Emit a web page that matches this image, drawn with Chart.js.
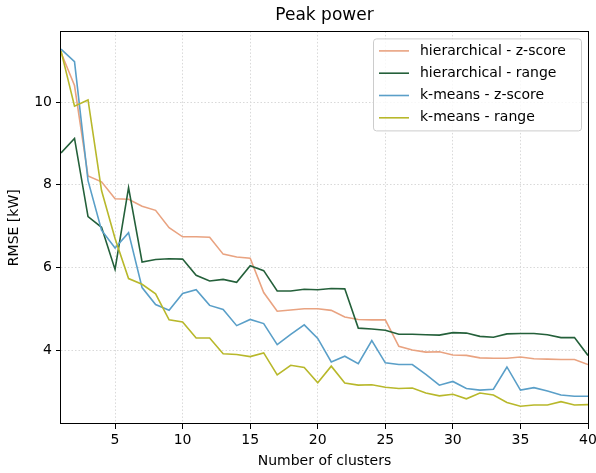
<!DOCTYPE html>
<html>
<head>
<meta charset="utf-8">
<script src="https://cdn.jsdelivr.net/npm/chart.js@4.4.1/dist/chart.umd.min.js"></script>
<style>
  html, body { margin: 0; padding: 0; background: #fff; }
  #wrap { width: 596px; height: 473px; }
</style>
</head>
<body>
<div id="wrap"><canvas id="grafico"></canvas></div>
<script>
// number of clusters on x
const clusters = Array.from({ length: 40 }, (_, i) => i + 1);
const xTicks = [5, 10, 15, 20, 25, 30, 35, 40];
const yTicks = [4, 6, 8, 10];

const nomes = ['hierarchical - z-score', 'hierarchical - range', 'k-means - z-score', 'k-means - range'];
const cores = ['#e9a381', '#24603a', '#5a9fc8', '#b8b82b'];

const hierZscore = [11.2, 10.4, 8.21, 8.07, 7.66, 7.65, 7.48, 7.38, 6.96, 6.74,
  6.74, 6.73, 6.32, 6.25, 6.22, 5.39, 4.94, 4.97, 5.0, 5.0,
  4.96, 4.8, 4.74, 4.73, 4.73, 4.09, 4.0, 3.95, 3.96, 3.88,
  3.87, 3.81, 3.8, 3.8, 3.83, 3.79, 3.78, 3.77, 3.77, 3.65];
const hierRange = [8.77, 9.12, 7.23, 6.97, 5.95, 7.93, 6.13, 6.19, 6.21, 6.2,
  5.81, 5.67, 5.71, 5.64, 6.04, 5.92, 5.43, 5.43, 5.47, 5.46,
  5.49, 5.48, 4.53, 4.51, 4.48, 4.38, 4.38, 4.37, 4.36, 4.42,
  4.41, 4.33, 4.31, 4.39, 4.4, 4.4, 4.37, 4.3, 4.3, 3.87];
const kmeansZscore = [11.28, 10.98, 8.1, 6.9, 6.47, 6.84, 5.51, 5.1, 4.96, 5.37,
  5.46, 5.08, 4.98, 4.59, 4.74, 4.64, 4.13, 4.38, 4.61, 4.28,
  3.71, 3.85, 3.67, 4.23, 3.69, 3.65, 3.65, 3.41, 3.15, 3.24,
  3.07, 3.03, 3.05, 3.59, 3.03, 3.09, 3.01, 2.91, 2.88, 2.88];
const kmeansRange = [11.24, 9.9, 10.05, 7.86, 6.7, 5.73, 5.59, 5.36, 4.73, 4.68,
  4.29, 4.29, 3.91, 3.89, 3.84, 3.93, 3.4, 3.63, 3.58, 3.21,
  3.61, 3.2, 3.15, 3.16, 3.1, 3.07, 3.08, 2.96, 2.89, 2.93,
  2.82, 2.96, 2.91, 2.73, 2.64, 2.67, 2.67, 2.75, 2.67, 2.68];

const series = [hierZscore, hierRange, kmeansZscore, kmeansRange];
const fonte = 'DejaVu Sans';

// frame round the plot and legend box like matplotlib
const moldura = {
  id: 'moldura',
  afterDraw(chart) {
    const ctx = chart.ctx;
    const a = chart.chartArea;
    ctx.save();
    ctx.strokeStyle = '#000';
    ctx.lineWidth = 1;
    ctx.strokeRect(Math.round(a.left) - 0.5, Math.round(a.top) + 0.5,
      Math.round(a.right - a.left) + 1, Math.round(a.bottom - a.top) - 1);

    const w = 208, h = 92;
    const x0 = a.right - 7 - w, y0 = a.top + 7;
    ctx.beginPath();
    ctx.roundRect(x0 + 0.5, y0 + 0.5, w, h, 3);
    ctx.fillStyle = 'rgba(255,255,255,0.8)';
    ctx.fill();
    ctx.strokeStyle = '#cccccc';
    ctx.stroke();

    ctx.font = '14px "' + fonte + '"';
    ctx.textBaseline = 'middle';
    ctx.fillStyle = '#000';
    nomes.forEach((nome, i) => {
      const y = y0 + 12.5 + i * 22.3;
      ctx.beginPath();
      ctx.moveTo(x0 + 6, y);
      ctx.lineTo(x0 + 36, y);
      ctx.strokeStyle = cores[i];
      ctx.lineWidth = 1.6;
      ctx.stroke();
      ctx.fillText(nome, x0 + 47, y);
    });
    ctx.restore();
  }
};

const gridComum = {
  color: '#d9d9d9',
  lineWidth: 1,
  drawTicks: true,
  tickLength: 5,
  tickColor: '#000',
  tickWidth: 1,
  tickBorderDash: []
};

new Chart(document.getElementById('grafico'), {
  type: 'line',
  data: {
    labels: clusters,
    datasets: series.map((valores, i) => ({
      label: nomes[i],
      data: clusters.map((k, j) => ({ x: k, y: valores[j] })),
      borderColor: cores[i],
      backgroundColor: cores[i],
      borderWidth: 1.6,
      pointRadius: 0,
      tension: 0,
      fill: false,
      order: 4 - i
    }))
  },
  options: {
    responsive: true,
    maintainAspectRatio: false,
    animation: false,
    layout: { padding: { top: 0, right: 8, left: 0, bottom: 0 } },
    scales: {
      x: {
        type: 'linear',
        min: 1,
        max: 40,
        afterBuildTicks: s => { s.ticks = xTicks.map(v => ({ value: v })); },
        afterFit: s => { s.height = 49; s.paddingRight = 0; s.paddingLeft = 0; },
        grid: gridComum,
        border: { display: false, dash: [1.5, 2] },
        ticks: { color: '#000', padding: 3, maxRotation: 0, font: { family: fonte, size: 14 } },
        title: { display: true, text: 'Number of clusters', color: '#000', padding: { top: 2, bottom: 3 }, font: { family: fonte, size: 14 } }
      },
      y: {
        type: 'linear',
        min: 2.21,
        max: 11.71,
        afterBuildTicks: s => { s.ticks = yTicks.map(v => ({ value: v })); },
        afterFit: s => { s.width = 61; s.paddingTop = 0; s.paddingBottom = 0; },
        grid: gridComum,
        border: { display: false, dash: [1.5, 2] },
        ticks: { color: '#000', padding: 4, font: { family: fonte, size: 14 } },
        title: { display: true, text: 'RMSE [kW]', color: '#000', padding: { top: 6, bottom: 4 }, font: { family: fonte, size: 14 } }
      }
    },
    plugins: {
      legend: { display: false },
      tooltip: { enabled: false },
      title: {
        display: true,
        text: 'Peak power',
        fullSize: false,
        color: '#000',
        font: { family: fonte, size: 17, weight: 'normal' },
        padding: { top: 5, bottom: 6 }
      }
    }
  },
  plugins: [moldura]
});
</script>
</body>
</html>
